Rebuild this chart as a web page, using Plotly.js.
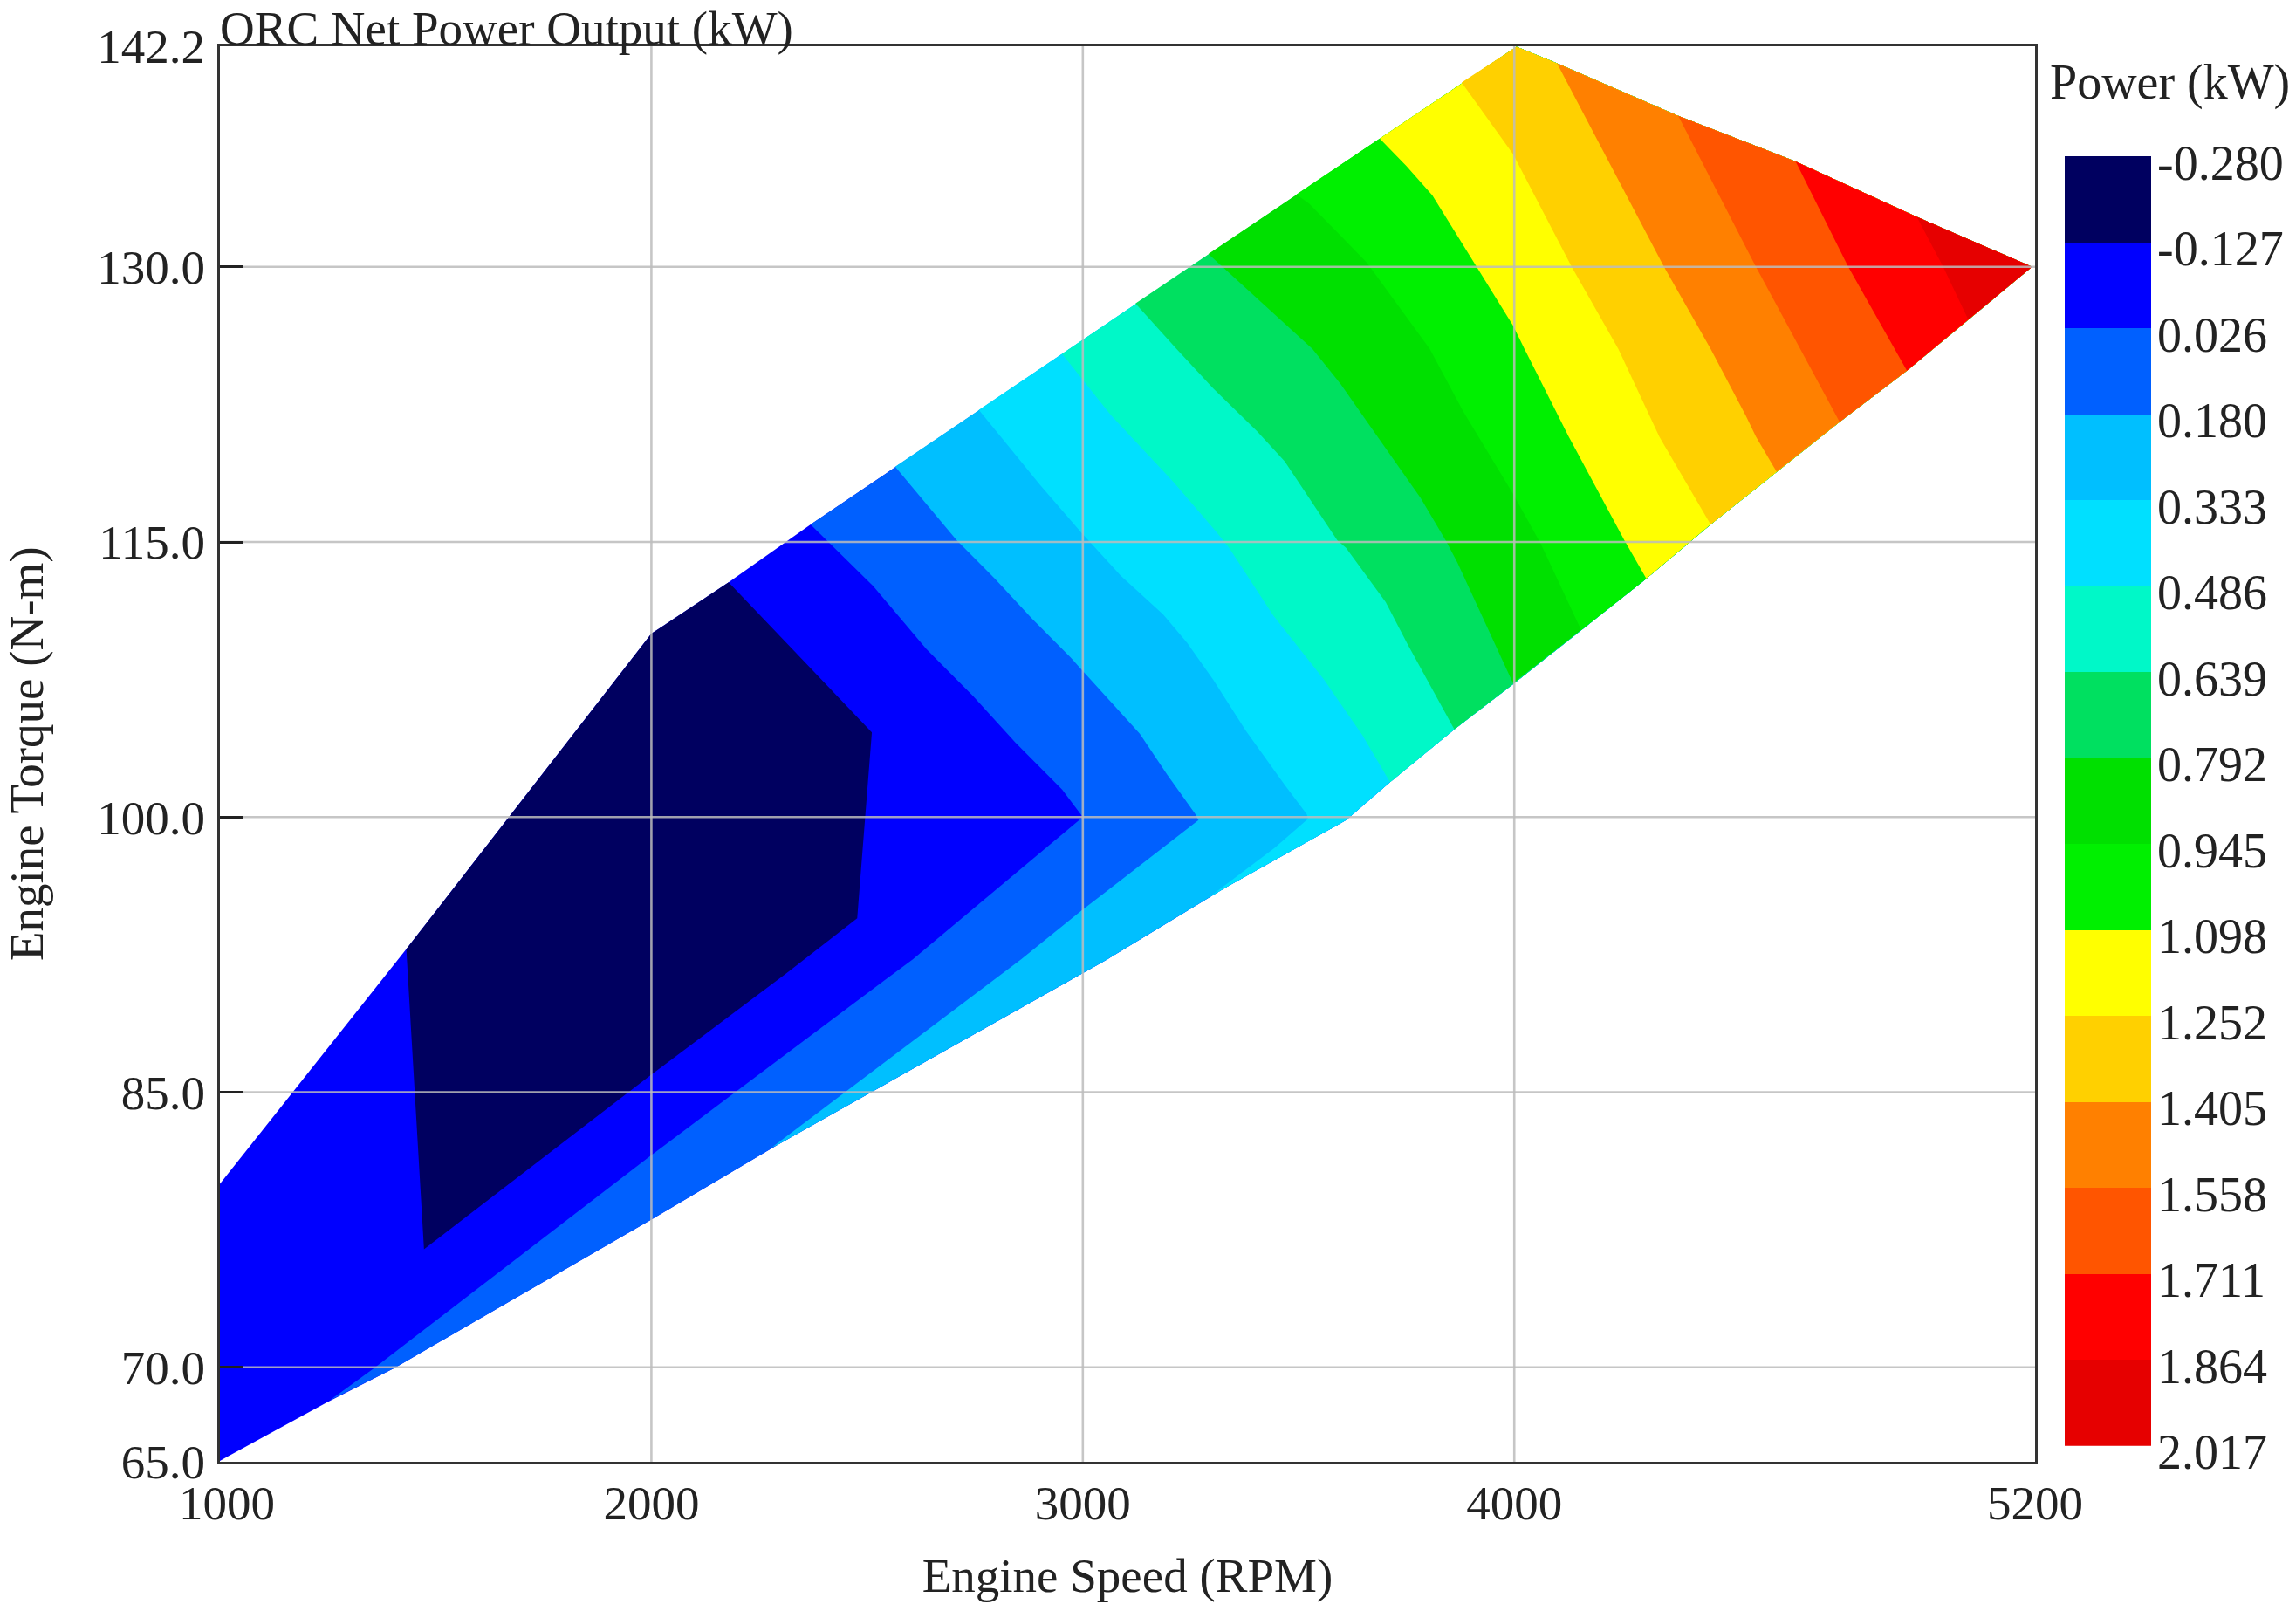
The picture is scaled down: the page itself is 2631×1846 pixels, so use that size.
<!DOCTYPE html>
<html>
<head>
<meta charset="utf-8">
<script src="https://cdn.plot.ly/plotly-3.0.1.min.js"></script>
<style>html,body{margin:0;padding:0;background:#fff}</style>
</head>
<body>
<div id="chart" style="width:2631px;height:1846px"></div>
<script>
// Legend levels and colours
const levels = ["-0.280","-0.127","0.026","0.180","0.333","0.486","0.639","0.792","0.945","1.098","1.252","1.405","1.558","1.711","1.864","2.017"];
const bandColors = ["#000060","#0000ff","#0060ff","#00bfff","#00e0ff","#00f8c8","#00e060","#00e000","#00f000","#ffff00","#ffd000","#ff8000","#ff5500","#ff0000","#e60000"];

// Axis ticks
const rpmRange = [1000,5207];
const rpmLabelAt = [1016,2000,3000,4000,5207];
const rpmTickText = ["1000","2000","3000","4000","5200"];
const nmTicks = [64.85,70,85,100,115,130,142.05];
const nmTickText = ["65.0","70.0","85.0","100.0","115.0","130.0","142.2"];
const rpmGrid = [2000,3000,4000];
const nmGrid = [70,85,100,115,130];

// Outline of the measured operating region
const upperRpm = [1000,1432,2000,2179,2369,4005,4099,4380,4652,4933,5200];
const upperNm  = [80,92.8,110,112.8,115.95,142.0,141.1,138.23,135.75,132.72,130];
const lowerRpm = [1000,1246,1405,1999,2291,3057,3325,3610,3712,3861,3997,4306,4455,4608,4754,4910,5052,5200];
const lowerNm  = [64.9,68.06,69.97,78.04,82.11,92.25,96.08,99.83,101.9,104.78,107.25,113,115.95,118.83,121.54,124.34,127.13,130];

// Lowest band: closed region
const band0Rpm = [1432,2000,2179,2511,2477,2311,1999,1473];
const band0Nm  = [92.8,110,112.8,104.62,94.48,91.45,85.94,76.44];

// Contour lines: the lower edge of each band, running from upper outline to lower outline
const c1Rpm = [1000,1000];
const c1Nm  = [80,64.9];
const c2Rpm = [2369,2514,2637,2745,2844,2952,3000,2606,2311,1999,1358,1255];
const c2Nm  = [115.95,112.6,109.17,106.61,104.06,101.5,100,92.25,87.06,81.55,69.97,68.2];
const c3Rpm = [2565,2708,2796,2881,2972,3067,3132,3196,3261,3268,2996,2857,2280];
const c3Nm  = [119.1,115.08,113,110.85,108.69,106.22,104.54,102.3,100.15,99.83,94.88,92.25,82];
const c4Rpm = [2759,2901,2996,3088,3186,3242,3302,3378,3468,3519,3522,3444,3291];
const c4Nm  = [122.2,118.11,115.52,113.16,111.05,109.49,107.49,104.7,101.75,100.15,99.9,98.31,95.6];
const c5Rpm = [2952,3067,3210,3312,3339,3441,3559,3648,3712];
const c5Nm  = [125.25,121.86,118.27,115.48,114.68,111,107.49,104.46,101.9];
const c6Rpm = [3122,3217,3302,3403,3468,3590,3610,3702,3753,3861];
const c6Nm  = [128,125.53,123.38,121.06,119.39,115.08,114.68,111.72,109.41,104.78];
const c7Rpm = [3291,3532,3597,3783,3841,3868,3997];
const c7Nm  = [130.7,125.53,123.62,117.39,115.08,113.88,107.3];
const c8Rpm = [3495,3525,3658,3743,3804,3882,3997,4061,4155];
const c8Nm  = [133.95,133.44,130.24,127.53,125.53,122.1,117.63,114.92,110.2];
const c9Rpm = [3688,3750,3810,3912,3997,4024,4126,4255,4306];
const c9Nm  = [137,135.5,133.9,130,126.8,125.5,120.75,115.1,113];
const c10Rpm = [3878,3997,4133,4241,4336,4455];
const c10Nm  = [140.05,136.15,130,125.53,120.74,115.95];
const c11Rpm = [4099,4347,4455,4537,4560,4608];
const c11Nm  = [141.1,130,125.53,121.86,120.74,118.83];
const c12Rpm = [4380,4560,4754];
const c12Nm  = [138.23,130,121.54];
const c13Rpm = [4652,4774,4910];
const c13Nm  = [135.75,130,124.34];
const c14Rpm = [4933,4994,5052];
const c14Nm  = [132.72,130,127.13];

const contours = [[c1Rpm,c1Nm],[c2Rpm,c2Nm],[c3Rpm,c3Nm],[c4Rpm,c4Nm],[c5Rpm,c5Nm],[c6Rpm,c6Nm],[c7Rpm,c7Nm],
                  [c8Rpm,c8Nm],[c9Rpm,c9Nm],[c10Rpm,c10Nm],[c11Rpm,c11Nm],[c12Rpm,c12Nm],[c13Rpm,c13Nm],[c14Rpm,c14Nm]];

const W = 2631, H = 1846;
const L = 252, R = 2332, T = 52.5, B = 1675;
const serif = "Liberation Serif, Times New Roman, serif";
const ink = "#222222";

function areaTrace(xs, ys, color){
  return {type:"scatter",mode:"lines",x:xs,y:ys,fill:"toself",fillcolor:color,
          line:{width:0,color:color},hoverinfo:"skip",showlegend:false,xaxis:"x",yaxis:"y"};
}
function bandAbove(cx, cy){
  const xs = cx.slice(), ys = cy.slice();
  const endRpm = cx[cx.length-1], startRpm = cx[0];
  lowerRpm.forEach((v,i)=>{ if(v>endRpm){xs.push(v);ys.push(lowerNm[i]);} });
  for(let i=upperRpm.length-2;i>=0;i--){ if(upperRpm[i]>startRpm){xs.push(upperRpm[i]);ys.push(upperNm[i]);} }
  xs.push(cx[0]); ys.push(cy[0]);
  return [xs,ys];
}

const traces = [];
contours.forEach((c,i)=>{
  const p = bandAbove(c[0],c[1]);
  traces.push(areaTrace(p[0],p[1],bandColors[i+1]));
  if(i===0) traces.push(areaTrace(band0Rpm.concat(band0Rpm[0]),band0Nm.concat(band0Nm[0]),bandColors[0]));
});

// Grid lines sit over the filled bands
const gridStyle = {color:"rgba(188,188,188,0.85)",width:2.6};
rpmGrid.forEach(v=>traces.push({type:"scatter",mode:"lines",x:[v,v],y:[nmTicks[0],nmTicks[nmTicks.length-1]],line:gridStyle,hoverinfo:"skip",showlegend:false,xaxis:"x",yaxis:"y"}));
nmGrid.forEach(v=>traces.push({type:"scatter",mode:"lines",x:rpmRange,y:[v,v],line:gridStyle,hoverinfo:"skip",showlegend:false,xaxis:"x",yaxis:"y"}));

// Colour key
const keyRows = bandColors.map((c,i)=>i);
const keyScale = bandColors.map((c,i)=>[[i/bandColors.length,c],[(i+1)/bandColors.length,c]]).flat();
traces.push({type:"heatmap",x:[0],y:keyRows,z:keyRows.map(i=>[i]),zmin:0,zmax:bandColors.length,
  colorscale:keyScale,showscale:false,hoverinfo:"skip",xaxis:"x2",yaxis:"y2"});

const layout = {
  width:W,height:H,
  margin:{l:0,r:0,t:0,b:0},
  paper_bgcolor:"#fff",plot_bgcolor:"#fff",
  font:{family:serif,size:55,color:ink},
  showlegend:false,
  title:{text:"ORC Net Power Output (kW)",font:{family:serif,size:55,color:ink},
         xref:"paper",yref:"paper",x:L/W,xanchor:"left",y:1-32/H,yanchor:"middle",pad:{l:0,t:0,b:0,r:0}},
  xaxis:{domain:[L/W,R/W],range:rpmRange,tickmode:"array",tickvals:rpmLabelAt,ticktext:rpmTickText,
         ticks:"",showgrid:false,zeroline:false,showline:true,mirror:true,linecolor:"#333",linewidth:3,
         tickfont:{family:serif,size:55,color:ink},ticklabelstandoff:-3,
         title:{text:"Engine Speed (RPM)",font:{family:serif,size:55,color:ink},standoff:34}},
  yaxis:{domain:[1-B/H,1-T/H],range:[nmTicks[0],nmTicks[6]],tickmode:"array",tickvals:nmTicks,ticktext:nmTickText,
         ticks:"inside",ticklen:26,tickwidth:3,tickcolor:"#222",showgrid:false,zeroline:false,showline:true,mirror:true,linecolor:"#333",linewidth:3,
         tickfont:{family:serif,size:55,color:ink},ticklabelstandoff:3,
         title:{text:"Engine Torque (N-m)",font:{family:serif,size:55,color:ink},standoff:47}},
  xaxis2:{domain:[2366/W,2465/W],range:[-0.5,0.5],anchor:"y2",showticklabels:false,ticks:"",showgrid:false,zeroline:false,showline:false},
  yaxis2:{domain:[1-1656.7/H,1-179/H],range:[14.5,-0.5],anchor:"x2",side:"right",tickmode:"array",
          tickvals:levels.map((s,i)=>i-0.5),ticktext:levels,ticks:"",showgrid:false,zeroline:false,showline:false,
          tickfont:{family:serif,size:56,color:ink},ticklabelshift:-7,ticklabelstandoff:6},
  annotations:[{text:"Power (kW)",xref:"paper",yref:"paper",x:2347/W,y:1-95/H,xanchor:"left",yanchor:"middle",showarrow:false,
                font:{family:serif,size:56,color:ink}}]
};
Plotly.newPlot("chart",traces,layout,{displayModeBar:false,staticPlot:true});
</script>
</body>
</html>
